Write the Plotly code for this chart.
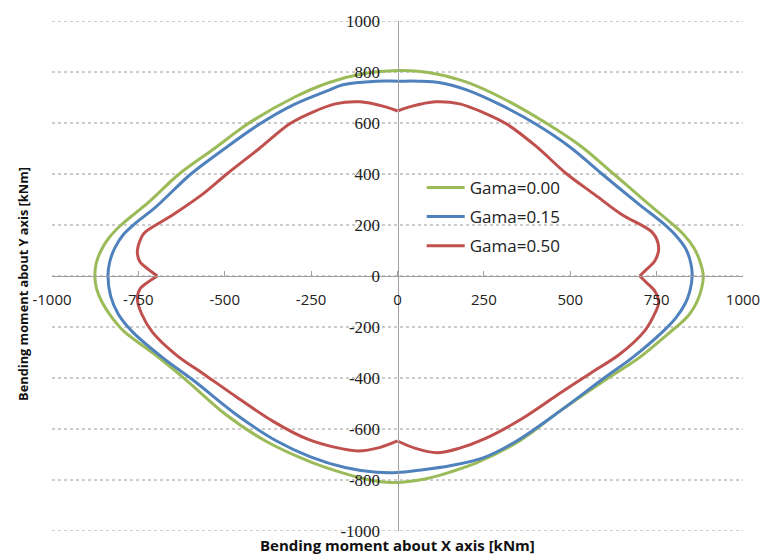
import plotly.graph_objects as go

# Biaxial bending interaction contours (Mx, My in kNm) for three Gama values
series_names = ["Gama=0.00", "Gama=0.15", "Gama=0.50"]
series_colors = ["#9BBB59", "#4F81BD", "#C0504D"]

gama000_mx = [0, 60, 120, 200, 300, 430, 530, 626, 720, 790, 830, 858, 876, 885, 880, 866, 845, 820, 790,
              700, 610, 470, 353, 230, 150, 86, 20, -20, -80, -152, -250, -382, -500, -610, -700, -790,
              -828, -855, -871, -876, -872, -858, -835, -800, -720, -632, -530, -434, -300, -200, -100, 0]
gama000_my = [806, 803, 790, 760, 700, 600, 510, 400, 290, 210, 160, 110, 55, 0, -50, -103, -150, -185, -219,
              -320, -400, -530, -647, -732, -770, -794, -808, -810, -800, -775, -730, -647, -540, -410, -310, -219,
              -160, -103, -50, 0, 50, 100, 150, 200, 290, 400, 500, 596, 700, 758, 793, 806]

gama015_mx = [0, 60, 124, 200, 300, 400, 500, 592, 700, 770, 808, 835, 849, 853, 846, 832, 805, 767,
              680, 598, 470, 345, 250, 152, 60, 0, -60, -152, -250, -350, -470, -590, -680, -767,
              -808, -830, -838, -833, -818, -795, -760, -700, -598, -500, -399, -300, -200, -158, -60, 0]
gama015_my = [764, 764, 758, 730, 670, 596, 505, 400, 280, 205, 155, 105, 50, 0, -60, -110, -165, -219,
              -320, -400, -530, -647, -712, -744, -762, -771, -770, -751, -710, -647, -540, -410, -320, -219,
              -150, -80, 0, 55, 110, 160, 205, 270, 400, 500, 596, 672, 728, 750, 764, 764]

gama050_mx = [0, 40, 110, 180, 250, 316, 400, 490, 570, 650, 739, 756, 745, 720, 701, 720, 745, 756, 740,
              713, 640, 560, 470, 360, 250, 180, 115, 50, 0, -50, -115, -180, -260, -360, -460, -555,
              -640, -710, -740, -753, -745, -718, -695, -720, -745, -753, -745, -733, -650, -565, -494,
              -400, -313, -250, -180, -109, -40, 0]
gama050_my = [647, 665, 683, 675, 640, 596, 510, 400, 320, 240, 169, 111, 60, 25, 0, -25, -60, -105, -160,
              -219, -310, -380, -460, -560, -640, -675, -693, -675, -647, -672, -686, -672, -640, -570, -480, -390,
              -310, -219, -150, -91, -50, -20, 0, 25, 55, 91, 140, 169, 240, 320, 400,
              500, 596, 640, 675, 683, 665, 647]

# Sharp corners of the Gama=0.50 contour (top, right, bottom, left)
gama050_cusps = [(0, 647), (701, 0), (0, -647), (-695, 0)]

x_ticks = [-1000, -750, -500, -250, 0, 250, 500, 750, 1000]
y_ticks = [-1000, -800, -600, -400, -200, 0, 200, 400, 600, 800, 1000]


def split_at_cusps(xs, ys, cusps):
    """Break a closed contour into smooth pieces joined at its corner points."""
    out_x, out_y = [], []
    cusp_set = set(cusps)
    seg_x, seg_y = [], []
    for px, py in zip(xs, ys):
        seg_x.append(px)
        seg_y.append(py)
        if (px, py) in cusp_set and len(seg_x) > 1:
            out_x += seg_x + [None]
            out_y += seg_y + [None]
            seg_x, seg_y = [px], [py]
    if len(seg_x) > 1:
        out_x += seg_x
        out_y += seg_y
    return out_x, out_y


red_x, red_y = split_at_cusps(gama050_mx, gama050_my, gama050_cusps)
curves = [(gama000_mx, gama000_my), (gama015_mx, gama015_my), (red_x, red_y)]

fig = go.Figure()
for name, color, (mx, my) in zip(series_names, series_colors, curves):
    fig.add_trace(go.Scatter(
        x=mx, y=my, mode="lines", name=name, legendgroup=name,
        connectgaps=False,
        line=dict(color=color, width=3, shape="spline", smoothing=0.9),
    ))

axis_grey = "#A0A0A0"
grid_grey = "#9A9A9A"

# Dashed horizontal gridlines at every y tick, across the full plot width
grid_shapes = [
    dict(type="line", xref="paper", yref="y", x0=0, x1=1, y0=v, y1=v,
         line=dict(color=grid_grey, width=1, dash="3px,3px"), layer="below")
    for v in y_ticks
]

fig.update_layout(
    width=772, height=555,
    margin=dict(l=52, r=23, t=16, b=24),
    paper_bgcolor="white", plot_bgcolor="white",
    showlegend=True,
    shapes=grid_shapes,
    legend=dict(
        x=0.535, y=0.708, xanchor="left", yanchor="top",
        bgcolor="rgba(0,0,0,0)", tracegroupgap=4, itemwidth=38,
        font=dict(family="Open Sans", size=17, color="#222"),
    ),
    xaxis=dict(
        range=[-1000, 1000], tickvals=x_ticks, ticktext=[str(v) for v in x_ticks],
        anchor="free", position=0.5,
        showline=True, linecolor=axis_grey, linewidth=1,
        ticks="inside", ticklen=5, tickcolor=axis_grey,
        showgrid=False, zeroline=False, ticklabelstandoff=10,
        tickfont=dict(family="Open Sans", size=15, color="#222"),
    ),
    yaxis=dict(
        range=[-1000, 1000], tickvals=y_ticks, ticktext=[str(v) for v in y_ticks],
        anchor="free", position=0.5,
        showline=True, linecolor=axis_grey, linewidth=1,
        ticks="", showgrid=False,
        zeroline=False, ticklabelstandoff=14,
        tickfont=dict(family="Liberation Serif", size=17, color="#222"),
    ),
    annotations=[
        dict(text="<b>Bending moment about X axis [kNm]</b>", x=0.5, y=-0.003,
             xref="paper", yref="paper", xanchor="center", yanchor="top", showarrow=False,
             font=dict(family="Open Sans", size=15, color="#111")),
        dict(text="<b>Bending moment about Y axis [kNm]</b>", x=-0.043, y=0.485,
             xref="paper", yref="paper", xanchor="center", yanchor="middle", showarrow=False,
             textangle=-90, font=dict(family="Open Sans", size=12.8, color="#111")),
    ],
)

fig.write_html("out.html")
